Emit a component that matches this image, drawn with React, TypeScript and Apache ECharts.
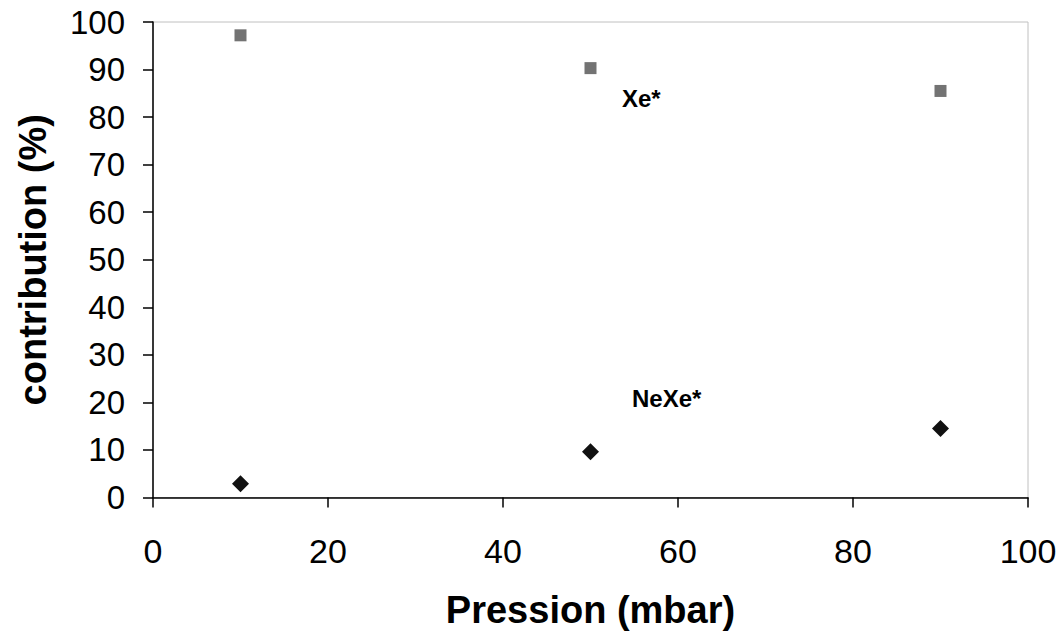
import React, { useEffect, useRef } from "react";
import * as echarts from "echarts";

const pressions = [10, 50, 90];
const xeValues = [97.2, 90.3, 85.5];
const nexeValues = [2.9, 9.6, 14.5];
const xTicks = [0, 20, 40, 60, 80, 100];
const yTicks = [0, 10, 20, 30, 40, 50, 60, 70, 80, 90, 100];

export default function App() {
  const ref = useRef<HTMLDivElement>(null);
  useEffect(() => {
    document.body.style.margin = "0";
    const chart = echarts.init(ref.current!, null, { renderer: "svg" });
    const font = "Liberation Sans, Arial, sans-serif";
    chart.setOption({
      animation: false,
      backgroundColor: "#ffffff",
      grid: {
        left: 153,
        right: 35,
        top: 22,
        bottom: 138.5,
        show: true,
        borderColor: "#c0c0c0",
        borderWidth: 1,
      },
      xAxis: {
        type: "value",
        min: xTicks[0],
        max: xTicks[xTicks.length - 1],
        interval: 20,
        name: "Pression (mbar)",
        nameLocation: "middle",
        nameGap: 93,
        nameTextStyle: { fontFamily: font, fontSize: 38, fontWeight: "bold", color: "#000" },
        axisLine: { show: true, onZero: false, lineStyle: { color: "#000", width: 1.5 } },
        axisTick: { show: true, inside: false, length: 10, lineStyle: { color: "#000", width: 1.5 } },
        axisLabel: { fontFamily: font, fontSize: 34, color: "#000", margin: 36 },
        splitLine: { show: false },
      },
      yAxis: {
        type: "value",
        min: yTicks[0],
        max: yTicks[yTicks.length - 1],
        interval: 10,
        name: "contribution (%)",
        nameLocation: "middle",
        nameGap: 101,
        nameTextStyle: { fontFamily: font, fontSize: 38, fontWeight: "bold", color: "#000" },
        axisLine: { show: true, onZero: false, lineStyle: { color: "#000", width: 1.5 } },
        axisTick: { show: true, inside: false, length: 10, lineStyle: { color: "#000", width: 1.5 } },
        axisLabel: { fontFamily: font, fontSize: 33, color: "#000", margin: 28 },
        splitLine: { show: false },
      },
      series: [
        {
          name: "Xe*",
          type: "scatter",
          symbol: "rect",
          symbolSize: 12,
          itemStyle: { color: "#737373", opacity: 1 },
          data: pressions.map((p, i) => [p, xeValues[i]]),
        },
        {
          name: "NeXe*",
          type: "scatter",
          symbol: "diamond",
          symbolSize: 17,
          itemStyle: { color: "#111111", opacity: 1 },
          data: pressions.map((p, i) => [p, nexeValues[i]]),
        },
      ],
      graphic: [
        {
          type: "text",
          left: 622,
          top: 86,
          style: { text: "Xe*", fontFamily: font, fontSize: 24, fontWeight: "bold", fill: "#000" },
        },
        {
          type: "text",
          left: 632,
          top: 386,
          style: { text: "NeXe*", fontFamily: font, fontSize: 24, fontWeight: "bold", fill: "#000" },
        },
      ],
    });
    return () => chart.dispose();
  }, []);
  return (
    <div
      ref={ref}
      style={{ position: "absolute", left: 0, top: 0, width: 1063, height: 636 }}
    />
  );
}
